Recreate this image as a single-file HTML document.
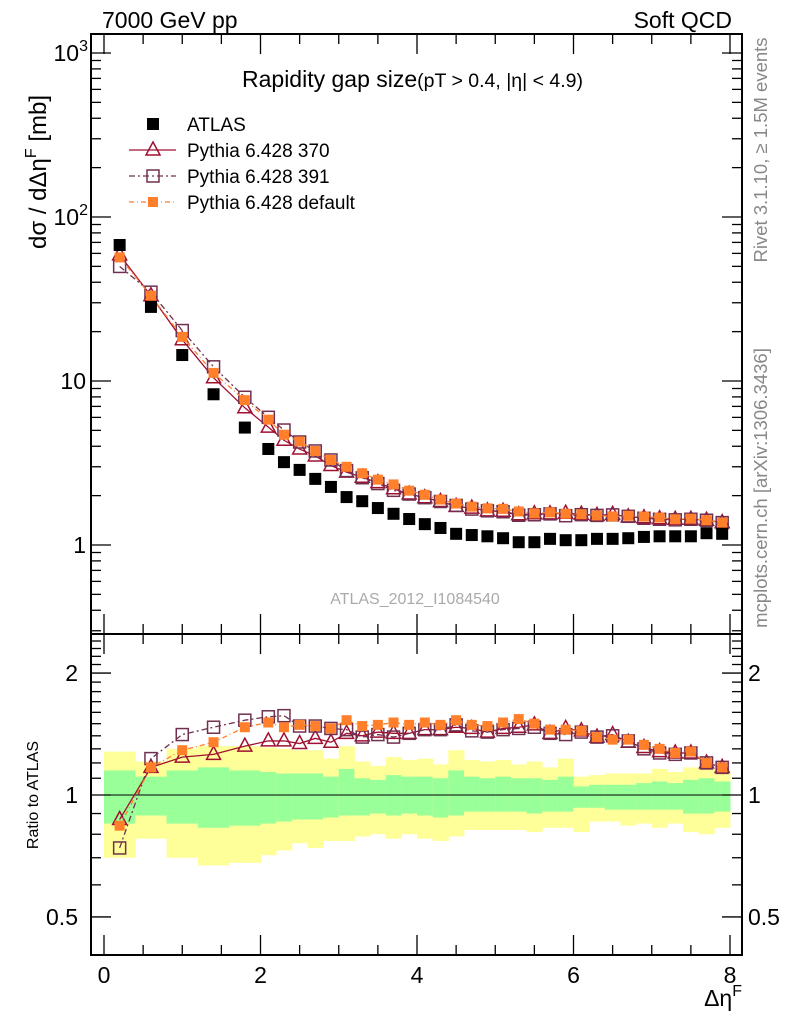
<!DOCTYPE html>
<html><head><meta charset="utf-8"><style>
body{margin:0;background:#fff}
svg{display:block;font-family:"Liberation Sans",sans-serif}
</style></head><body>
<svg id="c" width="786" height="1024" xmlns="http://www.w3.org/2000/svg">
<text x="102" y="28" font-size="23">7000 GeV pp</text>
<text x="732" y="28" font-size="23" text-anchor="end">Soft QCD</text>
<text x="242" y="87" font-size="23">Rapidity gap size<tspan font-size="19.5">(pT &gt; 0.4, |η| &lt; 4.9)</tspan></text>
<text transform="translate(767,150) rotate(-90)" font-size="18.5" fill="#888" text-anchor="middle">Rivet 3.1.10, ≥ 1.5M events</text>
<text transform="translate(767,488) rotate(-90)" font-size="18.5" fill="#888" text-anchor="middle">mcplots.cern.ch [arXiv:1306.3436]</text>
<text x="415" y="604" font-size="16" fill="#aaa" text-anchor="middle">ATLAS_2012_I1084540</text>
<text transform="translate(46,172) rotate(-90)" font-size="24" text-anchor="middle">dσ / dΔη<tspan font-size="16" dy="-10">F</tspan><tspan dy="10"> [mb]</tspan></text>
<text transform="translate(38,795) rotate(-90)" font-size="16" text-anchor="middle">Ratio to ATLAS</text>
<text x="742" y="1006" font-size="23" text-anchor="end">Δη<tspan font-size="16" dy="-10">F</tspan></text>
<g id="bands"></g>
<g id="marks"></g>
<g id="axes"></g>
<g id="legend"></g>
</svg>
<script>
const xCenters=[0.2,0.6,1.0,1.4,1.8,2.1,2.3,2.5,2.7,2.9,3.1,3.3,3.5,3.7,3.9,4.1,4.3,4.5,4.7,4.9,5.1,5.3,5.5,5.7,5.9,6.1,6.3,6.5,6.7,6.9,7.1,7.3,7.5,7.7,7.9];
const binEdges=[0,0.4,0.8,1.2,1.6,2.0,2.2,2.4,2.6,2.8,3.0,3.2,3.4,3.6,3.8,4.0,4.2,4.4,4.6,4.8,5.0,5.2,5.4,5.6,5.8,6.0,6.2,6.4,6.6,6.8,7.0,7.2,7.4,7.6,7.8,8.0];
const atlas=[67.5,28.3,14.4,8.3,5.2,3.85,3.2,2.87,2.53,2.26,1.96,1.85,1.68,1.55,1.44,1.34,1.27,1.17,1.15,1.13,1.10,1.04,1.04,1.09,1.07,1.07,1.09,1.09,1.10,1.12,1.13,1.13,1.13,1.18,1.17];
const ratio370=[0.87,1.17,1.24,1.26,1.32,1.36,1.36,1.34,1.38,1.35,1.42,1.40,1.43,1.42,1.42,1.45,1.45,1.47,1.46,1.43,1.46,1.47,1.49,1.42,1.46,1.44,1.39,1.41,1.35,1.31,1.28,1.27,1.27,1.20,1.17];
const ratio391=[0.74,1.23,1.41,1.47,1.53,1.56,1.57,1.48,1.48,1.46,1.45,1.39,1.41,1.39,1.42,1.45,1.45,1.49,1.44,1.43,1.45,1.46,1.47,1.42,1.41,1.43,1.39,1.40,1.36,1.30,1.27,1.26,1.27,1.20,1.17];
const ratioDef=[0.84,1.17,1.29,1.35,1.47,1.51,1.47,1.49,1.48,1.46,1.53,1.48,1.49,1.51,1.49,1.51,1.49,1.53,1.49,1.48,1.51,1.54,1.50,1.45,1.45,1.44,1.39,1.37,1.37,1.33,1.30,1.27,1.28,1.20,1.17];
const yellowHi=[1.28,1.21,1.30,1.32,1.32,1.31,1.30,1.29,1.29,1.23,1.32,1.21,1.18,1.24,1.22,1.23,1.19,1.29,1.22,1.21,1.22,1.19,1.21,1.17,1.23,1.11,1.12,1.13,1.13,1.13,1.16,1.14,1.17,1.16,1.15];
const yellowLo=[0.70,0.78,0.70,0.67,0.68,0.71,0.73,0.76,0.74,0.77,0.77,0.79,0.80,0.78,0.80,0.78,0.77,0.79,0.82,0.82,0.82,0.82,0.81,0.83,0.83,0.81,0.86,0.86,0.84,0.85,0.83,0.85,0.81,0.80,0.83];
const greenHi=[1.15,1.11,1.15,1.17,1.15,1.14,1.13,1.13,1.13,1.11,1.16,1.10,1.09,1.12,1.11,1.11,1.10,1.15,1.11,1.10,1.11,1.10,1.10,1.09,1.11,1.05,1.06,1.06,1.06,1.07,1.08,1.07,1.09,1.10,1.08];
const greenLo=[0.85,0.89,0.85,0.83,0.84,0.85,0.86,0.87,0.87,0.88,0.89,0.89,0.90,0.89,0.90,0.89,0.88,0.89,0.91,0.91,0.91,0.91,0.90,0.91,0.91,0.93,0.93,0.92,0.92,0.92,0.92,0.92,0.90,0.90,0.91];
const xTicks=[0,2,4,6,8];
const mainTicks=[1,10,100,1000];
const ratioTicks=[0.5,1,2];

const NS="http://www.w3.org/2000/svg";
const L=91,R=742,T=34,M=634,B=955;
const X=v=>104+v*78.25;
const Y=v=>545-164*Math.log10(v);
const RY=v=>795-405*Math.log10(v);
function el(tag,attrs,parent){const e=document.createElementNS(NS,tag);for(const k in attrs)e.setAttribute(k,attrs[k]);parent.appendChild(e);return e;}
const bands=document.getElementById('bands'),marks=document.getElementById('marks'),axes=document.getElementById('axes'),legend=document.getElementById('legend');
for(let i=0;i<xCenters.length;i++){
  const x0=X(binEdges[i]),x1=X(binEdges[i+1]);
  const y=el('rect',{x:x0,y:RY(yellowHi[i]),width:x1-x0+0.5,height:RY(yellowLo[i])-RY(yellowHi[i]),fill:'#ffff99'},bands);
  
  
  const g=el('rect',{x:x0,y:RY(greenHi[i]),width:x1-x0+0.5,height:RY(greenLo[i])-RY(greenHi[i]),fill:'#99ff99'},bands);
  
  
}
el('line',{x1:L,x2:R,y1:RY(1),y2:RY(1),stroke:'#000','stroke-width':1},bands);
const series=[
 {name:'pythia-370',r:ratio370,color:'#a01030',dash:'',mk:'tri'},
 {name:'pythia-391',r:ratio391,color:'#703050',dash:'6,3,2,3',mk:'sq'},
 {name:'pythia-default',r:ratioDef,color:'#ff7f2a',dash:'5,3,1,3',mk:'fsq'}];
function marker(kind,x,y,color,parent){
  let m;
  if(kind==='tri')m=el('polygon',{points:`${x},${y-8} ${x-7},${y+5} ${x+7},${y+5}`,fill:'#fff','fill-opacity':0,stroke:color,'stroke-width':1.5},parent);
  else if(kind==='sq')m=el('rect',{x:x-6,y:y-6,width:12,height:12,fill:'none',stroke:color,'stroke-width':1.5},parent);
  else if(kind==='fsq')m=el('rect',{x:x-5,y:y-5,width:10,height:10,fill:color},parent);
  else m=el('rect',{x:x-6,y:y-6,width:12,height:12,fill:'#000'},parent);
  return m;
}
function drawSeries(s,vals,yf){
  const g=el('g',{},marks);
  
  
  const pts=vals.map((v,i)=>X(xCenters[i])+','+yf(v)).join(' ');
  el('polyline',{points:pts,fill:'none',stroke:s.color,'stroke-width':1.3,'stroke-dasharray':s.dash},g);
  vals.forEach((v,i)=>{const m=marker(s.mk,X(xCenters[i]),yf(v),s.color,g);
    
    });
}
series.forEach(s=>{drawSeries(s,s.r,RY);drawSeries(s,s.r.map((r,i)=>r*atlas[i]),Y);});
const ag=el('g',{},marks);


atlas.forEach((v,i)=>{const m=marker('atlas',X(xCenters[i]),Y(v),'#000',ag);
  
  });
el('rect',{x:L,y:T,width:R-L,height:B-T,fill:'none',stroke:'#000','stroke-width':2},axes);
el('line',{x1:L,x2:R,y1:M,y2:M,stroke:'#000','stroke-width':2},axes);
function tick(x1,y1,x2,y2){el('line',{x1,y1,x2,y2,stroke:'#000','stroke-width':1.3},axes);}
function txt(x,y,s,anchor,size){const t=el('text',{x,y,'font-size':size||23,'text-anchor':anchor||'middle'},axes);t.textContent=s;return t;}
for(let v=0;v<=8.01;v+=0.5){const x=X(v),big=Math.abs(v-Math.round(v/2)*2)<0.01,len=big?20:10;
  [T,M].forEach(y=>tick(x,y,x,y+len)); [M,B].forEach(y=>tick(x,y,x,y-len));}
xTicks.forEach(v=>txt(X(v),983,String(v)));
for(let d=0.1;d<1500;d*=10){for(let k=1;k<10;k++){const v=d*k,y=Y(v);if(y<T||y>M)continue;const len=k===1?20:10;tick(L,y,L+len,y);tick(R,y,R-len,y);}}
mainTicks.forEach(v=>{const y=Y(v);if(v===1)txt(86,y+8,'1','end');else if(v===10)txt(86,y+8,'10','end');else{const t=txt(88,y+8,'10','end');const s=el('tspan',{'font-size':16,dy:-10},t);s.textContent=String(Math.log10(v));}});
for(let v=0.4;v<=2.51;v+=0.1){const y=RY(v);if(y<M||y>B)continue;const big=ratioTicks.some(t=>Math.abs(t-v)<0.001);const len=big?20:10;tick(L,y,L+len,y);tick(R,y,R-len,y);}
ratioTicks.forEach(v=>{const y=RY(v);txt(78,y+8,String(v),'end');txt(748,y+8,String(v),'start');});
const leg=[{n:'ATLAS',mk:'atlas',c:'#000',d:null},{n:'Pythia 6.428 370',mk:'tri',c:'#a01030',d:''},{n:'Pythia 6.428 391',mk:'sq',c:'#703050',d:'6,3,2,3'},{n:'Pythia 6.428 default',mk:'fsq',c:'#ff7f2a',d:'5,3,1,3'}];
leg.forEach((e,i)=>{const y=124+i*26;const g=el('g',{},legend);
  
  
  if(e.d!==null)el('line',{x1:129,x2:176,y1:y,y2:y,stroke:e.c,'stroke-width':1.3,'stroke-dasharray':e.d},g);
  marker(e.mk,153,y,e.c,g);
  const t=el('text',{x:187,y:y+7,'font-size':19},g);t.textContent=e.n;});
</script>
</body></html>
